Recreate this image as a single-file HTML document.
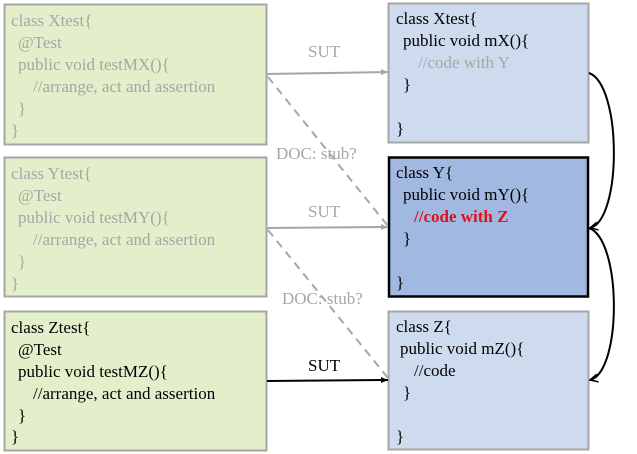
<!DOCTYPE html>
<html><head><style>
html,body{margin:0;padding:0;background:#fff;}
svg{display:block}
text{font-family:"Liberation Serif",serif;font-size:17px;}
.g{fill:#a6a6a6}
.k{fill:#000}
</style></head><body>
<svg width="637" height="454" viewBox="0 0 637 454">
<defs>
<marker id="ag" markerWidth="8" markerHeight="8" refX="7" refY="4" orient="auto" markerUnits="userSpaceOnUse"><path d="M0,1 L7,4 L0,7z" fill="#a6a6a6"/></marker>
<marker id="ak" markerWidth="10" markerHeight="10" refX="8" refY="5" orient="auto" markerUnits="userSpaceOnUse"><path d="M0,1 L8,5 L0,9" fill="none" stroke="#000" stroke-width="1.5"/></marker>
<marker id="ak2" markerWidth="8" markerHeight="8" refX="7" refY="4" orient="auto" markerUnits="userSpaceOnUse"><path d="M0,1 L7,4 L0,7z" fill="#000"/></marker>
</defs>
<!-- left boxes -->
<rect x="4.5" y="4.5" width="262" height="140" fill="#e3efca" stroke="#a6a6a6" stroke-width="2"/>
<rect x="4.5" y="157.5" width="262" height="139" fill="#e3efca" stroke="#a6a6a6" stroke-width="2"/>
<rect x="4.5" y="311.5" width="262" height="139" fill="#e3efca" stroke="#a6a6a6" stroke-width="2"/>
<!-- right boxes -->
<rect x="388.5" y="3.5" width="200" height="139" fill="#cedbef" stroke="#a6a6a6" stroke-width="2"/>
<rect x="389" y="157.5" width="199" height="139" fill="#a1b9e1" stroke="#000" stroke-width="2.5"/>
<rect x="388.5" y="311.5" width="200" height="138" fill="#cedbef" stroke="#a6a6a6" stroke-width="2"/>

<!-- Xtest -->
<g class="g">
<text x="11" y="26">class Xtest{</text>
<text x="18" y="48">@Test</text>
<text x="18" y="70">public void testMX(){</text>
<text x="33" y="92">//arrange, act and assertion</text>
<text x="18" y="114">}</text>
<text x="11" y="136">}</text>
<text x="11" y="179">class Ytest{</text>
<text x="18" y="201">@Test</text>
<text x="18" y="223">public void testMY(){</text>
<text x="33" y="245">//arrange, act and assertion</text>
<text x="18" y="267">}</text>
<text x="11" y="289">}</text>
</g>
<g class="k">
<text x="11" y="333">class Ztest{</text>
<text x="18" y="355">@Test</text>
<text x="18" y="377">public void testMZ(){</text>
<text x="33" y="399">//arrange, act and assertion</text>
<text x="18" y="421">}</text>
<text x="11" y="442">}</text>

<text x="396" y="24">class Xtest{</text>
<text x="403" y="46">public void mX(){</text>
<text x="418" y="68" class="g">//code with Y</text>
<text x="403" y="90">}</text>
<text x="396" y="134">}</text>

<text x="396" y="178">class Y{</text>
<text x="403" y="200">public void mY(){</text>
<text x="414" y="222" fill="#e0101a" font-weight="bold">//code with Z</text>
<text x="403" y="244">}</text>
<text x="396" y="288">}</text>

<text x="396" y="332">class Z{</text>
<text x="400" y="354">public void mZ(){</text>
<text x="414" y="376">//code</text>
<text x="403" y="398">}</text>
<text x="396" y="442">}</text>
</g>

<!-- connectors -->
<line x1="267" y1="74" x2="388" y2="72" stroke="#a6a6a6" stroke-width="2" marker-end="url(#ag)"/>
<line x1="267" y1="228" x2="388" y2="227" stroke="#a6a6a6" stroke-width="2" marker-end="url(#ag)"/>
<line x1="267" y1="381" x2="388" y2="380" stroke="#000" stroke-width="2" marker-end="url(#ak2)"/>
<line x1="268" y1="77" x2="388" y2="226" stroke="#a6a6a6" stroke-width="2" stroke-dasharray="8,6"/>
<line x1="268" y1="230" x2="388" y2="378" stroke="#a6a6a6" stroke-width="2" stroke-dasharray="8,6"/>
<text x="308" y="57" class="g">SUT</text>
<text x="308" y="217" class="g">SUT</text>
<text x="308" y="371" class="k">SUT</text>
<text x="276" y="159" class="g">DOC: stub?</text>
<text x="282" y="304" class="g">DOC: stub?</text>

<path d="M589,73 C622,85 622,220 590,228" fill="none" stroke="#000" stroke-width="2" marker-end="url(#ak)"/>
<path d="M589,228 C622,240 622,372 590,380" fill="none" stroke="#000" stroke-width="2" marker-end="url(#ak)"/>
</svg>
</body></html>
